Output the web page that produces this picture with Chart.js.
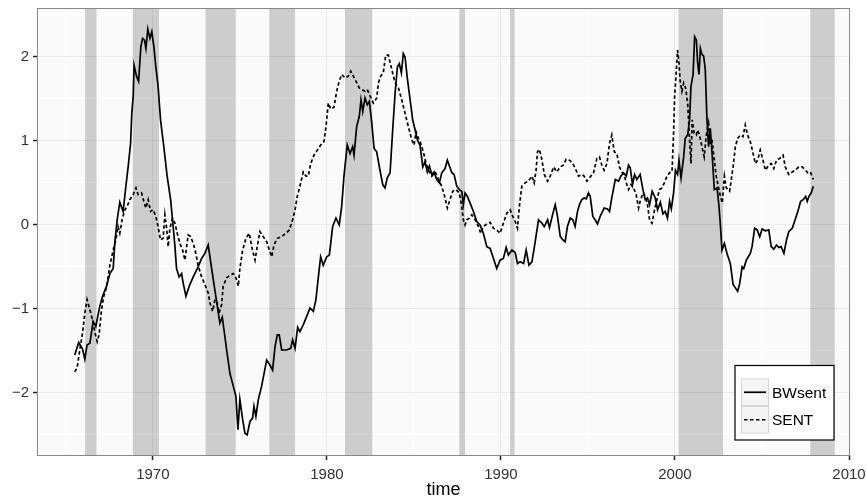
<!DOCTYPE html>
<html>
<head>
<meta charset="utf-8">
<script src="https://cdn.jsdelivr.net/npm/chart.js@4.4.0/dist/chart.umd.min.js"></script>
<style>
    html, body { margin: 0; padding: 0; background: #ffffff; }
    #wrap { width: 867px; height: 498px; }
</style>
</head>
<body>
<div id="wrap"><canvas id="chart" width="867" height="498"></canvas></div>
<script>
// Sentiment indexes (decimal years)
const bwYears = [
    1965.51, 1965.74, 1965.96, 1966.09, 1966.22, 1966.38, 1966.57, 1966.72, 1966.95, 1967.11,
    1967.34, 1967.53, 1967.72, 1967.81, 1967.95, 1968.10, 1968.29, 1968.45, 1968.58, 1968.72,
    1968.79, 1968.87, 1968.92, 1969.06, 1969.18, 1969.31, 1969.41, 1969.52, 1969.60, 1969.71,
    1969.83, 1969.94, 1970.06, 1970.17, 1970.30, 1970.44, 1970.63, 1970.82, 1971.02, 1971.13,
    1971.27, 1971.36, 1971.51, 1971.65, 1971.74, 1971.90, 1972.09, 1972.32, 1972.60, 1972.80,
    1972.99, 1973.18, 1973.47, 1973.85, 1973.99, 1974.24, 1974.43, 1974.62, 1974.77, 1974.89,
    1975.00, 1975.16, 1975.29, 1975.42, 1975.58, 1975.73, 1975.81, 1975.92, 1976.06, 1976.25,
    1976.54, 1976.73, 1976.88, 1977.02, 1977.15, 1977.26, 1977.40, 1977.69, 1977.92, 1978.03,
    1978.17, 1978.32, 1978.45, 1978.64, 1978.84, 1979.03, 1979.22, 1979.37, 1979.51, 1979.64,
    1979.79, 1979.99, 1980.14, 1980.22, 1980.33, 1980.52, 1980.71, 1980.85, 1980.98, 1981.17,
    1981.33, 1981.48, 1981.56, 1981.71, 1981.86, 1981.96, 1982.06, 1982.19, 1982.32, 1982.44,
    1982.58, 1982.71, 1982.86, 1983.05, 1983.21, 1983.34, 1983.47, 1983.63, 1983.78, 1983.92,
    1984.05, 1984.16, 1984.28, 1984.39, 1984.49, 1984.62, 1984.78, 1984.93, 1985.07, 1985.20,
    1985.35, 1985.51, 1985.64, 1985.77, 1985.89, 1986.03, 1986.16, 1986.31, 1986.46, 1986.60,
    1986.79, 1986.92, 1987.04, 1987.18, 1987.31, 1987.46, 1987.61, 1987.75, 1987.84, 1987.94,
    1988.07, 1988.19, 1988.42, 1988.61, 1988.80, 1988.99, 1989.19, 1989.38, 1989.57, 1989.76,
    1989.95, 1990.14, 1990.30, 1990.43, 1990.63, 1990.82, 1990.95, 1991.10, 1991.30, 1991.45,
    1991.61, 1991.78, 1991.91, 1992.16, 1992.36, 1992.49, 1992.68, 1992.79, 1992.99, 1993.12,
    1993.25, 1993.41, 1993.56, 1993.69, 1993.82, 1993.98, 1994.13, 1994.26, 1994.40, 1994.51,
    1994.65, 1994.78, 1994.90, 1995.03, 1995.13, 1995.28, 1995.41, 1995.55, 1995.70, 1995.93,
    1996.12, 1996.24, 1996.37, 1996.57, 1996.76, 1996.89, 1997.04, 1997.20, 1997.33, 1997.43,
    1997.56, 1997.68, 1997.81, 1998.00, 1998.16, 1998.29, 1998.42, 1998.54, 1998.69, 1998.87,
    1999.00, 1999.16, 1999.31, 1999.44, 1999.57, 1999.69, 1999.79, 1999.92, 2000.03, 2000.15,
    2000.23, 2000.35, 2000.50, 2000.59, 2000.73, 2000.84, 2000.92, 2001.04, 2001.13, 2001.23,
    2001.30, 2001.38, 2001.46, 2001.55, 2001.65, 2001.74, 2001.84, 2001.93, 2002.03, 2002.13,
    2002.26, 2002.42, 2002.53, 2002.61, 2002.70, 2002.84, 2002.99, 2003.18, 2003.34, 2003.47,
    2003.60, 2003.72, 2003.86, 2003.95, 2004.10, 2004.33, 2004.43, 2004.58, 2004.72, 2004.87,
    2005.01, 2005.20, 2005.39, 2005.53, 2005.68, 2005.83, 2005.97, 2006.10, 2006.26, 2006.41,
    2006.54, 2006.74, 2006.87, 2007.06, 2007.22, 2007.37, 2007.51, 2007.60, 2007.70, 2007.83,
    2007.95
];
const bwValues = [
    -1.55, -1.40, -1.48, -1.60, -1.43, -1.41, -1.15, -1.21, -0.97, -0.85,
    -0.73, -0.58, -0.52, -0.22, 0.06, 0.27, 0.16, 0.46, 0.69, 0.97,
    1.33, 1.53, 1.90, 1.77, 1.71, 2.12, 2.22, 2.20, 2.10, 2.33,
    2.22, 2.30, 2.12, 1.88, 1.65, 1.25, 0.93, 0.58, 0.30, 0.06,
    -0.26, -0.52, -0.62, -0.58, -0.69, -0.85, -0.73, -0.62, -0.50, -0.40,
    -0.34, -0.24, -0.65, -1.17, -1.10, -1.49, -1.77, -1.92, -2.04, -2.44,
    -2.08, -2.32, -2.48, -2.50, -2.34, -2.30, -2.16, -2.28, -2.08, -1.92,
    -1.61, -1.67, -1.73, -1.45, -1.31, -1.31, -1.49, -1.49, -1.47, -1.37,
    -1.47, -1.22, -1.27, -1.19, -1.09, -0.99, -1.03, -0.89, -0.62, -0.38,
    -0.48, -0.38, -0.36, -0.22, -0.02, 0.08, 0.00, 0.22, 0.58, 0.95,
    0.85, 0.93, 0.83, 1.17, 1.29, 1.49, 1.35, 1.51, 1.43, 1.47,
    1.21, 0.91, 0.87, 0.65, 0.48, 0.44, 0.56, 0.62, 1.13, 1.57,
    1.88, 1.92, 1.81, 2.04, 2.00, 1.75, 1.49, 1.25, 1.13, 1.01,
    0.95, 0.69, 0.75, 0.63, 0.70, 0.60, 0.63, 0.54, 0.50, 0.62,
    0.67, 0.77, 0.70, 0.62, 0.60, 0.46, 0.42, 0.40, 0.24, 0.38,
    0.34, 0.28, 0.16, 0.04, 0.00, -0.10, -0.26, -0.28, -0.40, -0.52,
    -0.42, -0.40, -0.27, -0.36, -0.30, -0.33, -0.46, -0.44, -0.46, -0.30,
    -0.48, -0.44, -0.28, 0.06, 0.02, -0.02, 0.06, -0.03, 0.14, 0.24,
    0.10, -0.14, -0.18, -0.20, -0.02, 0.08, 0.06, -0.02, 0.16, 0.24,
    0.30, 0.32, 0.31, 0.38, 0.34, 0.10, 0.06, 0.01, 0.10, 0.20,
    0.19, 0.16, 0.32, 0.54, 0.52, 0.58, 0.62, 0.58, 0.71, 0.68,
    0.48, 0.60, 0.54, 0.60, 0.42, 0.30, 0.32, 0.24, 0.40, 0.32,
    0.18, 0.27, 0.13, 0.16, 0.08, 0.28, 0.19, 0.38, 0.65, 0.60,
    0.77, 0.56, 0.81, 1.03, 1.07, 1.25, 1.65, 1.79, 2.24, 2.20,
    1.94, 1.79, 2.10, 2.03, 2.01, 1.85, 1.25, 0.93, 1.15, 0.86,
    0.42, 0.44, 0.22, 0.00, -0.30, -0.22, -0.34, -0.46, -0.71, -0.75,
    -0.79, -0.70, -0.50, -0.52, -0.42, -0.34, -0.26, -0.04, -0.06, -0.14,
    -0.05, -0.07, -0.06, -0.26, -0.29, -0.24, -0.27, -0.26, -0.34, -0.18,
    -0.08, -0.04, 0.04, 0.16, 0.28, 0.30, 0.34, 0.28, 0.34, 0.38,
    0.46
];

const sentYears = [
    1965.51, 1965.65, 1965.80, 1965.96, 1966.09, 1966.22, 1966.38, 1966.53, 1966.68, 1966.80,
    1966.91, 1967.05, 1967.18, 1967.34, 1967.53, 1967.72, 1967.87, 1968.00, 1968.10, 1968.23,
    1968.39, 1968.52, 1968.68, 1968.87, 1969.03, 1969.15, 1969.35, 1969.48, 1969.60, 1969.73,
    1969.87, 1970.02, 1970.17, 1970.30, 1970.44, 1970.59, 1970.69, 1970.79, 1970.88, 1970.98,
    1971.13, 1971.27, 1971.40, 1971.55, 1971.71, 1971.84, 1971.94, 1972.03, 1972.17, 1972.32,
    1972.47, 1972.60, 1972.80, 1972.99, 1973.18, 1973.28, 1973.43, 1973.57, 1973.70, 1973.81,
    1973.95, 1974.04, 1974.24, 1974.43, 1974.62, 1974.77, 1974.91, 1975.00, 1975.16, 1975.35,
    1975.54, 1975.68, 1975.87, 1976.00, 1976.15, 1976.34, 1976.54, 1976.69, 1976.83, 1976.96,
    1977.15, 1977.40, 1977.65, 1977.84, 1978.03, 1978.17, 1978.30, 1978.45, 1978.64, 1978.80,
    1978.93, 1979.07, 1979.26, 1979.45, 1979.64, 1979.83, 1979.95, 1980.08, 1980.22, 1980.41,
    1980.56, 1980.71, 1980.85, 1981.04, 1981.23, 1981.37, 1981.52, 1981.67, 1981.86, 1982.00,
    1982.19, 1982.32, 1982.47, 1982.67, 1982.86, 1982.96, 1983.09, 1983.24, 1983.38, 1983.53,
    1983.67, 1983.82, 1983.97, 1984.11, 1984.30, 1984.49, 1984.68, 1984.88, 1985.01, 1985.12,
    1985.26, 1985.39, 1985.54, 1985.70, 1985.83, 1986.03, 1986.22, 1986.41, 1986.60, 1986.79,
    1986.92, 1987.04, 1987.23, 1987.42, 1987.61, 1987.75, 1987.84, 1987.94, 1988.04, 1988.19,
    1988.33, 1988.52, 1988.71, 1988.84, 1988.99, 1989.19, 1989.38, 1989.57, 1989.76, 1989.95,
    1990.14, 1990.34, 1990.53, 1990.68, 1990.82, 1990.95, 1991.06, 1991.20, 1991.39, 1991.58,
    1991.78, 1991.91, 1992.02, 1992.10, 1992.21, 1992.36, 1992.49, 1992.68, 1992.83, 1993.03,
    1993.21, 1993.41, 1993.59, 1993.75, 1993.94, 1994.13, 1994.32, 1994.46, 1994.65, 1994.78,
    1994.94, 1995.13, 1995.32, 1995.51, 1995.66, 1995.80, 1995.93, 1996.09, 1996.24, 1996.37,
    1996.51, 1996.66, 1996.81, 1996.95, 1997.08, 1997.20, 1997.33, 1997.47, 1997.62, 1997.77,
    1997.91, 1998.00, 1998.16, 1998.29, 1998.42, 1998.54, 1998.68, 1998.81, 1998.96, 1999.11,
    1999.25, 1999.39, 1999.54, 1999.69, 1999.83, 1999.92, 1999.98, 2000.07, 2000.15, 2000.23,
    2000.30, 2000.40, 2000.50, 2000.61, 2000.73, 2000.84, 2000.92, 2000.99, 2001.11, 2001.23,
    2001.30, 2001.41, 2001.55, 2001.68, 2001.80, 2001.93, 2002.03, 2002.14, 2002.26, 2002.37,
    2002.51, 2002.61, 2002.72, 2002.84, 2002.95, 2003.14, 2003.34, 2003.47, 2003.60, 2003.76,
    2003.91, 2004.04, 2004.17, 2004.33, 2004.49, 2004.62, 2004.75, 2004.90, 2005.06, 2005.20,
    2005.39, 2005.53, 2005.68, 2005.83, 2006.01, 2006.21, 2006.34, 2006.54, 2006.74, 2006.92,
    2007.11, 2007.30, 2007.51, 2007.63, 2007.78, 2007.95
];
const sentValues = [
    -1.75, -1.70, -1.49, -1.29, -1.05, -0.89, -1.01, -1.13, -1.29, -1.39,
    -1.31, -1.01, -0.85, -0.74, -0.48, -0.30, -0.18, -0.02, -0.10, 0.06,
    0.18, 0.22, 0.30, 0.36, 0.44, 0.36, 0.38, 0.28, 0.20, 0.30,
    0.16, 0.18, 0.10, -0.02, -0.18, -0.16, 0.12, -0.04, -0.26, -0.04,
    0.08, 0.02, -0.10, -0.22, -0.30, -0.42, -0.26, -0.12, -0.14, -0.22,
    -0.34, -0.48, -0.62, -0.71, -0.81, -0.93, -1.03, -0.89, -0.93, -1.05,
    -0.95, -0.73, -0.63, -0.60, -0.58, -0.63, -0.73, -0.52, -0.30, -0.16,
    -0.10, -0.26, -0.42, -0.26, -0.08, -0.14, -0.20, -0.30, -0.38, -0.24,
    -0.16, -0.14, -0.10, -0.06, 0.06, 0.18, 0.34, 0.46, 0.63, 0.58,
    0.58, 0.73, 0.83, 0.89, 0.95, 0.99, 1.17, 1.45, 1.38, 1.40,
    1.59, 1.71, 1.79, 1.75, 1.77, 1.83, 1.77, 1.71, 1.63, 1.61,
    1.59, 1.61, 1.54, 1.45, 1.51, 1.69, 1.77, 1.81, 2.02, 2.02,
    1.90, 1.77, 1.67, 1.63, 1.49, 1.33, 1.17, 1.01, 0.95, 1.11,
    1.03, 0.97, 0.87, 0.73, 0.65, 0.58, 0.63, 0.54, 0.46, 0.32,
    0.20, 0.28, 0.40, 0.42, 0.38, 0.22, 0.06, 0.00, 0.06, 0.08,
    0.12, 0.06, -0.02, -0.10, -0.02, 0.01, 0.03, -0.04, -0.06, -0.10,
    0.02, 0.14, 0.18, 0.10, 0.04, -0.04, 0.22, 0.46, 0.50, 0.52,
    0.58, 0.50, 0.65, 0.87, 0.90, 0.77, 0.60, 0.52, 0.58, 0.69,
    0.63, 0.69, 0.71, 0.78, 0.77, 0.73, 0.65, 0.58, 0.60, 0.58,
    0.52, 0.57, 0.62, 0.79, 0.81, 0.71, 0.65, 0.73, 0.97, 1.07,
    0.87, 0.85, 0.69, 0.63, 0.60, 0.50, 0.42, 0.48, 0.44, 0.36,
    0.20, 0.28, 0.38, 0.34, 0.24, 0.06, 0.02, 0.16, 0.30, 0.42,
    0.44, 0.50, 0.58, 0.62, 0.63, 1.09, 1.53, 1.81, 2.08, 1.93,
    1.71, 1.59, 1.69, 1.63, 1.45, 1.01, 0.73, 1.25, 1.09, 1.07,
    1.13, 1.07, 0.93, 0.81, 1.07, 1.21, 0.95, 0.99, 0.77, 0.58,
    0.44, 0.34, 0.26, 0.58, 0.44, 0.40, 0.69, 0.93, 1.03, 1.07,
    1.05, 1.19, 1.07, 0.99, 0.85, 0.73, 0.77, 0.89, 0.77, 0.65,
    0.71, 0.73, 0.67, 0.77, 0.79, 0.83, 0.69, 0.60, 0.63, 0.65,
    0.69, 0.69, 0.65, 0.62, 0.63, 0.54
];

// Shaded market downturn periods
const shadeStart = [1966.11, 1968.85, 1973.03, 1976.69, 1981.04, 1987.61, 1990.53, 2000.21, 2007.78];
const shadeEnd   = [1966.76, 1970.35, 1974.76, 1978.17, 1982.61, 1987.94, 1990.78, 2002.76, 2009.18];

const seriesLabels = ['BWsent', 'SENT'];
const xTickValues = [1965, 1970, 1975, 1980, 1985, 1990, 1995, 2000, 2005, 2010];
const yTickValues = [-2.5, -2, -1.5, -1, -0.5, 0, 0.5, 1, 1.5, 2, 2.5];

const FONT = "'Liberation Sans', Arial, sans-serif";
Chart.defaults.font.family = FONT;

function toPoints(xs, ys) {
    return xs.map((x, i) => ({ x: x, y: ys[i] }));
}

function isMajorX(value) {
    return value % 10 === 0;
}

const panelPlugin = {
    id: 'panel',
    beforeDraw(chart) {
        const { ctx, chartArea: a } = chart;
        ctx.save();
        ctx.fillStyle = '#FAFAFA';
        ctx.fillRect(a.left, a.top, a.right - a.left, a.bottom - a.top);
        ctx.restore();
    },
    beforeDatasetsDraw(chart) {
        // grey bands, placed through the x scale
        const { ctx, chartArea: a, scales } = chart;
        ctx.save();
        ctx.fillStyle = 'rgba(0, 0, 0, 0.18)';
        shadeStart.forEach((s, i) => {
            const x0 = Math.max(a.left, scales.x.getPixelForValue(s));
            const x1 = Math.min(a.right, scales.x.getPixelForValue(shadeEnd[i]));
            ctx.fillRect(x0, a.top, x1 - x0, a.bottom - a.top);
        });
        ctx.restore();
    },
    afterDatasetsDraw(chart) {
        const { ctx, chartArea: a } = chart;
        ctx.save();
        ctx.strokeStyle = '#888888';
        ctx.lineWidth = 1;
        ctx.strokeRect(Math.round(a.left) - 0.5, Math.round(a.top) - 0.5,
            Math.round(a.right - a.left) + 1, Math.round(a.bottom - a.top) + 1);
        ctx.restore();
    }
};

// ggplot style legend box inside the panel
const legendPlugin = {
    id: 'boxLegend',
    afterDraw(chart) {
        const ctx = chart.ctx;
        const bx = 735, by = 365.5, bw = 99, bh = 74.5;
        const kx = 741, ky = 378.5, kw = 28, kh = 27.5;
        ctx.save();
        ctx.fillStyle = '#ffffff';
        ctx.fillRect(bx, by, bw, bh);
        ctx.strokeStyle = '#000000';
        ctx.lineWidth = 1.2;
        ctx.strokeRect(bx, by, bw, bh);

        chart.data.datasets.forEach((ds, i) => {
            const y0 = ky + i * kh;
            ctx.fillStyle = '#F5F5F5';
            ctx.fillRect(kx, y0, kw, kh);
            ctx.strokeStyle = '#D6D6D6';
            ctx.lineWidth = 1;
            ctx.setLineDash([]);
            ctx.strokeRect(kx + 0.5, y0 + 0.5, kw - 1, kh - 1);

            ctx.strokeStyle = ds.borderColor;
            ctx.lineWidth = ds.borderWidth;
            ctx.setLineDash(ds.borderDash || []);
            ctx.beginPath();
            ctx.moveTo(kx + 3, y0 + kh / 2);
            ctx.lineTo(kx + kw - 3, y0 + kh / 2);
            ctx.stroke();
            ctx.setLineDash([]);

            ctx.fillStyle = '#000000';
            ctx.font = '15.5px ' + FONT;
            ctx.textAlign = 'left';
            ctx.textBaseline = 'middle';
            ctx.fillText(ds.label, kx + kw + 3, y0 + kh / 2 + 1);
        });
        ctx.restore();
    }
};

new Chart(document.getElementById('chart'), {
    type: 'line',
    data: {
        datasets: [{
            label: seriesLabels[0],
            data: toPoints(bwYears, bwValues),
            borderColor: '#000000',
            borderWidth: 1.7,
            pointRadius: 0,
            tension: 0,
            fill: false
        }, {
            label: seriesLabels[1],
            data: toPoints(sentYears, sentValues),
            borderColor: '#000000',
            borderWidth: 1.7,
            borderDash: [3.5, 2.5],
            pointRadius: 0,
            tension: 0,
            fill: false
        }]
    },
    options: {
        responsive: false,
        animation: false,
        devicePixelRatio: 1,
        layout: {
            padding: { top: 9, right: 18, left: 0, bottom: 0 }
        },
        scales: {
            x: {
                type: 'linear',
                min: 1963.4,
                max: 2010,
                afterBuildTicks: (scale) => {
                    scale.ticks = xTickValues.map(v => ({ value: v }));
                },
                afterFit: (scale) => {
                    // fixed axis box, no extra room for edge labels
                    scale.height = 43;
                    scale.paddingLeft = 0;
                    scale.paddingRight = 0;
                },
                border: { display: false },
                grid: {
                    color: (c) => (c.tick && isMajorX(c.tick.value)) ? '#EBEBEB' : '#FFFFFF',
                    tickColor: (c) => (c.tick && isMajorX(c.tick.value)) ? '#222222' : 'rgba(0,0,0,0)',
                    tickLength: 5,
                    tickWidth: 1.5,
                    lineWidth: 1
                },
                ticks: {
                    autoSkip: false,
                    maxRotation: 0,
                    padding: 6,
                    color: '#333333',
                    font: { size: 15 },
                    callback: (value) => isMajorX(value) ? String(value) : ''
                },
                title: {
                    display: true,
                    text: 'time',
                    color: '#000000',
                    padding: 0,
                    font: { size: 18, lineHeight: 0.9 }
                }
            },
            y: {
                type: 'linear',
                min: -2.74,
                max: 2.57,
                afterBuildTicks: (scale) => {
                    scale.ticks = yTickValues.map(v => ({ value: v }));
                },
                afterFit: (scale) => {
                    scale.width = 38;
                    scale.paddingTop = 0;
                    scale.paddingBottom = 0;
                },
                border: { display: false },
                grid: {
                    color: (c) => (c.tick && Number.isInteger(c.tick.value)) ? '#EBEBEB' : '#FFFFFF',
                    tickColor: (c) => (c.tick && Number.isInteger(c.tick.value)) ? '#222222' : 'rgba(0,0,0,0)',
                    tickLength: 5,
                    tickWidth: 1.5,
                    lineWidth: 1
                },
                ticks: {
                    padding: 4,
                    color: '#333333',
                    font: { size: 15 },
                    callback: (value) => {
                        if (!Number.isInteger(value)) return '';
                        return value < 0 ? '\u2212' + Math.abs(value) : String(value);
                    }
                }
            }
        },
        plugins: {
            legend: { display: false },
            tooltip: { enabled: false }
        }
    },
    plugins: [panelPlugin, legendPlugin]
});
</script>
</body>
</html>
